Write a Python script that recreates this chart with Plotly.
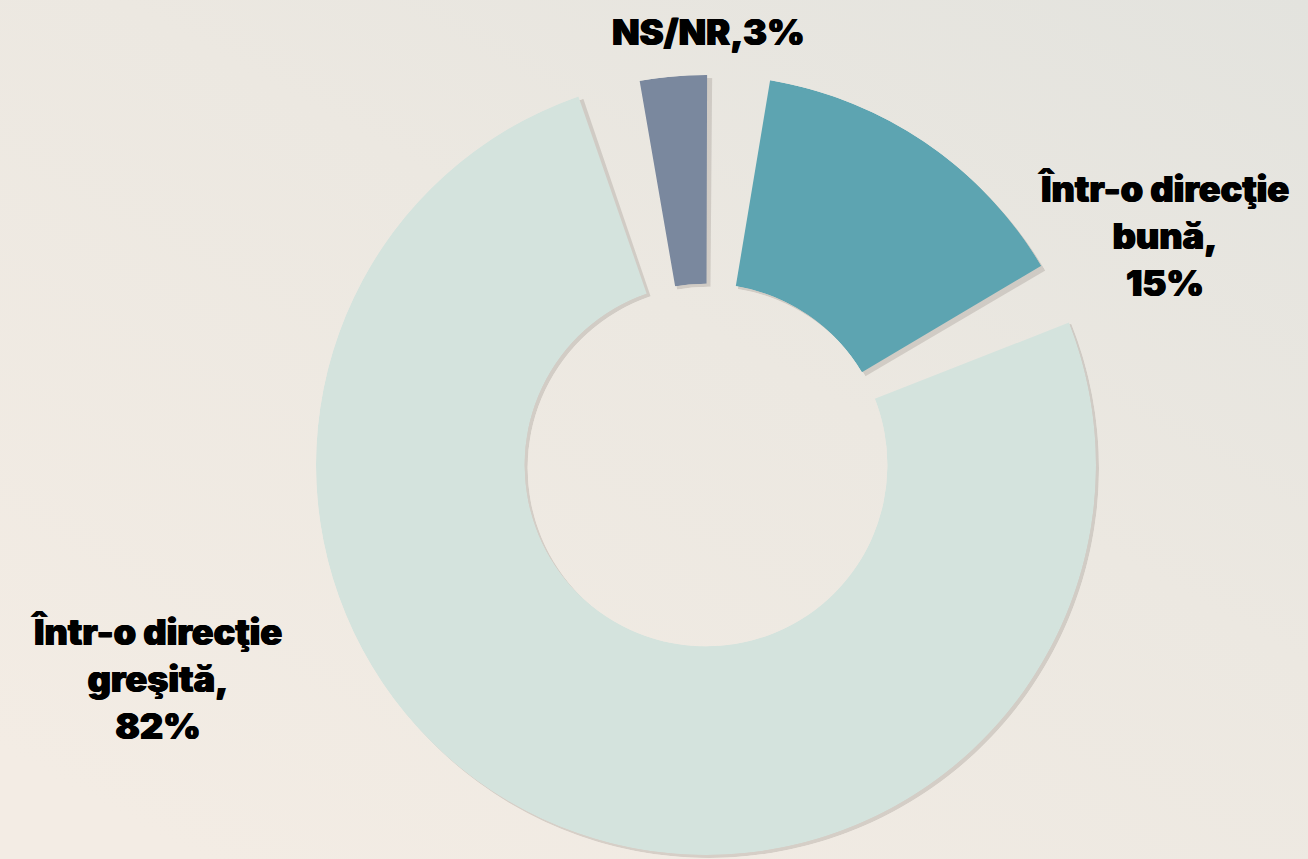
import base64
import numpy as np
import plotly.graph_objects as go

# ---- data ----
labels = ["NS/NR", "Într-o direcţie bună", "Într-o direcţie greşită"]
values = [3, 15, 82]
label_texts = ["NS/NR,3%", "Într-o direcţie<br>bună,<br>15%", "Într-o direcţie<br>greşită,<br>82%"]
colors = ["#7a889e", "#5da4b1", "#d4e3dd"]

# ---- geometry of the slices (angular gaps between slices) ----
gap = 9.3
start = -9.8
scale = (360 - gap * len(values)) / sum(values)
widths = np.array(values) * scale
starts = start + np.concatenate([[0], np.cumsum(widths + gap)[:-1]])
centers = starts + widths / 2

fig = go.Figure()
# soft shadow (same slices on an offset polar subplot, drawn first = below)
fig.add_trace(go.Barpolar(
    r=[1] * len(values), theta=centers, width=widths + 0.6,
    marker=dict(color="rgba(60,50,40,0.15)", line=dict(width=0)),
    hoverinfo="skip", showlegend=False, subplot="polar",
))
fig.add_trace(go.Barpolar(
    r=[1] * len(values),
    theta=centers,
    width=widths,
    marker=dict(color=colors, line=dict(width=0)),
    hovertext=labels, hoverinfo="text",
    showlegend=False, subplot="polar2",
))

# background gradient as an svg image
svg = """<svg xmlns='http://www.w3.org/2000/svg' width='1308' height='859' preserveAspectRatio='none'>
<defs><linearGradient id='g' x1='1' y1='0' x2='0.15' y2='1'>
<stop offset='0' stop-color='#e3e3de'/>
<stop offset='0.45' stop-color='#ece8e1'/>
<stop offset='1' stop-color='#f3ece4'/>
</linearGradient></defs>
<rect width='1308' height='859' fill='url(#g)'/></svg>"""
uri = "data:image/svg+xml;base64," + base64.b64encode(svg.encode()).decode()

W, H = 1308, 859
cx, cy, R = 706, 465, 390
sx, sy = 3, 3

def polar_cfg(dx, dy):
    return dict(
        domain=dict(x=[(cx + dx - R) / W, (cx + dx + R) / W],
                    y=[(H - cy - dy - R) / H, (H - cy - dy + R) / H]),
        hole=0.465,
        bgcolor="rgba(0,0,0,0)",
        radialaxis=dict(visible=False, range=[0, 1]),
        angularaxis=dict(visible=False, direction="clockwise", rotation=90),
        bargap=0,
    )

fig.update_layout(
    width=W, height=H,
    margin=dict(l=0, r=0, t=0, b=0),
    paper_bgcolor="#ece8e1",
    images=[dict(source=uri, xref="paper", yref="paper", x=0, y=1, sizex=1, sizey=1,
                 sizing="stretch", layer="below")],
    polar=polar_cfg(sx, sy),
    polar2=polar_cfg(0, 0),
    font=dict(family="Inter", size=36, color="#000000", weight=900),
)

label_font = dict(family="Inter", size=36, color="#000000", weight=900,
                  shadow="0.6px 0 0 #000, -0.6px 0 0 #000")
label_pos = [(708, 32), (1163, 236), (156, 679)]
for t, (x, y) in zip(label_texts, label_pos):
    fig.add_annotation(text=t, x=x / W, y=1 - y / H, xref="paper", yref="paper",
                       showarrow=False, xanchor="center", yanchor="middle", align="center",
                       font=label_font)

fig.write_html("out.html", config={"displayModeBar": False},
               post_script="document.body.style.margin='0';document.body.style.overflow='hidden';")
